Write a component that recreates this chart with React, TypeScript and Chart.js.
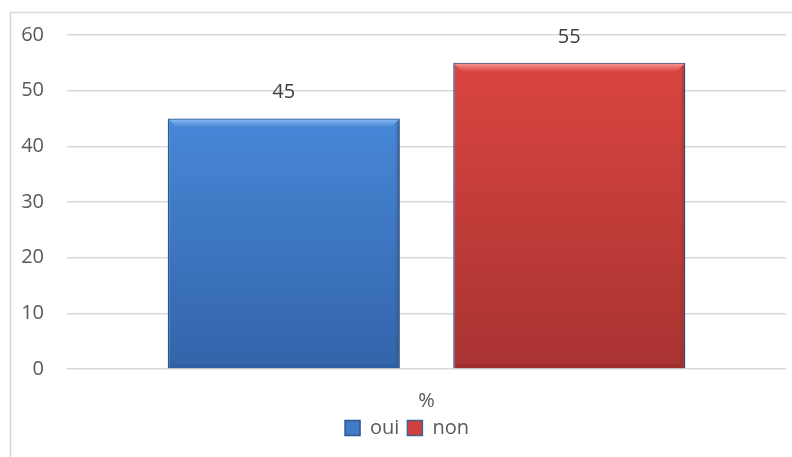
import React, { useEffect, useRef } from "react";
import { Chart, registerables } from "chart.js";

Chart.register(...registerables);

const categories = ["%"];
const seriesNames = ["oui", "non"];
const ouiValues = [45];
const nonValues = [55];
const yTicks = { min: 0, max: 60, step: 10 };

const FONT = "'Open Sans', 'Noto Sans', sans-serif";

const palette = [
  { top: "#4787d7", bottom: "#3364aa", light: "#86b8f2", dark: "#244a80", border: "#2e5894", legend: "#3f7ac6" },
  { top: "#da4541", bottom: "#a83331", light: "#f79490", dark: "#7e2422", border: "#3f6194", legend: "#cf403c" },
];

function hexToRgba(hex: string, a: number) {
  const n = parseInt(hex.slice(1), 16);
  return `rgba(${(n >> 16) & 255},${(n >> 8) & 255},${n & 255},${a})`;
}

const framePlugin = {
  id: "frame",
  beforeDraw(chart: any) {
    const c = chart.ctx;
    c.save();
    c.fillStyle = "#ffffff";
    c.fillRect(0, 0, chart.width, chart.height);
    c.strokeStyle = "#d9d9d9";
    c.lineWidth = 1.5;
    c.strokeRect(10.5, 12.5, 900, 600);
    c.restore();
  },
};

const shadowPlugin = {
  id: "barShadow",
  beforeDatasetsDraw(chart: any) {
    const c = chart.ctx;
    c.save();
    c.shadowColor = "rgba(0,0,0,0.3)";
    c.shadowBlur = 4;
    c.shadowOffsetX = 2;
    c.shadowOffsetY = 2;
  },
  afterDatasetsDraw(chart: any) {
    chart.ctx.restore();
  },
};

const bevelPlugin = {
  id: "bevel",
  afterDatasetsDraw(chart: any) {
    const c = chart.ctx;
    chart.data.datasets.forEach((ds: any, i: number) => {
      const meta = chart.getDatasetMeta(i);
      const p = palette[i];
      meta.data.forEach((el: any) => {
        const { x, y, base, width } = el.getProps(["x", "y", "base", "width"], true);
        const x0 = x - width / 2 + 1;
        const x1 = x + width / 2 - 1;
        const y0 = y + 1;
        const y1 = base - 1;
        const b = 8;
        const s = 4;
        c.save();
        // top highlight
        let g = c.createLinearGradient(0, y0, 0, y0 + b);
        g.addColorStop(0, hexToRgba(p.light, 0.95));
        g.addColorStop(1, hexToRgba(p.light, 0.0));
        c.fillStyle = g;
        c.beginPath();
        c.moveTo(x0, y0);
        c.lineTo(x1, y0);
        c.lineTo(x1 - b, y0 + b);
        c.lineTo(x0 + b, y0 + b);
        c.closePath();
        c.fill();
        // right shade
        g = c.createLinearGradient(x1 - s, 0, x1, 0);
        g.addColorStop(0, hexToRgba(p.dark, 0.0));
        g.addColorStop(1, hexToRgba(p.dark, 0.45));
        c.fillStyle = g;
        c.beginPath();
        c.moveTo(x1, y0);
        c.lineTo(x1, y1);
        c.lineTo(x1 - s, y1 - s);
        c.lineTo(x1 - s, y0 + s);
        c.closePath();
        c.fill();
        // bottom shade
        g = c.createLinearGradient(0, y1 - s, 0, y1);
        g.addColorStop(0, hexToRgba(p.dark, 0.0));
        g.addColorStop(1, hexToRgba(p.dark, 0.45));
        c.fillStyle = g;
        c.beginPath();
        c.moveTo(x0, y1);
        c.lineTo(x1, y1);
        c.lineTo(x1 - s, y1 - s);
        c.lineTo(x0 + s, y1 - s);
        c.closePath();
        c.fill();
        c.restore();
      });
    });
  },
};

const valueLabelPlugin = {
  id: "valueLabels",
  afterDatasetsDraw(chart: any) {
    const c = chart.ctx;
    c.save();
    c.font = `20px ${FONT}`;
    c.fillStyle = "#404040";
    c.textAlign = "center";
    c.textBaseline = "middle";
    chart.data.datasets.forEach((ds: any, i: number) => {
      const meta = chart.getDatasetMeta(i);
      meta.data.forEach((el: any, j: number) => {
        c.fillText(String(ds.data[j]), el.x, el.y - 26);
      });
    });
    c.restore();
  },
};

const legendShiftPlugin = {
  id: "legendShift",
  afterLayout(chart: any) {
    if (chart.legend) {
      chart.legend.left += 14;
      chart.legend.right += 14;
    }
  },
};

function makeFill(i: number) {
  return (ctx: any) => {
    const chart = ctx.chart;
    const ys = chart.scales && chart.scales.y;
    if (!ys || ctx.type !== "data" || ys.bottom === undefined) return palette[i].top;
    const top = ys.getPixelForValue(ctx.raw);
    const bot = ys.getPixelForValue(0);
    if (!isFinite(top) || !isFinite(bot)) return palette[i].top;
    const g = chart.ctx.createLinearGradient(0, top, 0, bot);
    g.addColorStop(0, palette[i].top);
    g.addColorStop(1, palette[i].bottom);
    return g;
  };
}

export default function App() {
  const ref = useRef<HTMLCanvasElement | null>(null);
  useEffect(() => {
    if (!ref.current) return;
    const chart = new Chart(ref.current, {
      type: "bar",
      data: {
        labels: categories,
        datasets: [
          {
            label: seriesNames[0],
            data: ouiValues,
            backgroundColor: makeFill(0),
            borderColor: palette[0].border,
            borderWidth: 1.5,
            categoryPercentage: 0.794,
            barPercentage: 0.813,
          },
          {
            label: seriesNames[1],
            data: nonValues,
            backgroundColor: makeFill(1),
            borderColor: palette[1].border,
            borderWidth: 1.5,
            categoryPercentage: 0.794,
            barPercentage: 0.813,
          },
        ],
      },
      options: {
        animation: false,
        responsive: false,
        maintainAspectRatio: false,
        devicePixelRatio: 1,
        layout: { padding: { left: 0, right: 6, top: 35, bottom: 9 } },
        plugins: {
          tooltip: { enabled: false },
          legend: {
            display: true,
            position: "bottom",
            labels: {
              font: { family: FONT, size: 20 },
              color: "#595959",
              boxWidth: 15,
              boxHeight: 15,
              padding: 8,
              generateLabels: (ch: any) =>
                ch.data.datasets.map((ds: any, i: number) => ({
                  text: ds.label,
                  fillStyle: palette[i].legend,
                  strokeStyle: palette[i].border,
                  lineWidth: 1.5,
                  datasetIndex: i,
                  hidden: false,
                  fontColor: "#595959",
                })),
            },
          },
        },
        scales: {
          x: {
            afterFit: (s: any) => {
              s.height = 41;
            },
            grid: { display: false, drawTicks: false },
            border: { display: false },
            ticks: {
              font: { family: FONT, size: 20 },
              color: "#595959",
              padding: 20,
            },
          },
          y: {
            min: yTicks.min,
            max: yTicks.max,
            afterFit: (s: any) => {
              s.width = 67;
            },
            grid: { color: "#d9d9d9", lineWidth: 1.5, drawTicks: false },
            border: { display: false },
            ticks: {
              stepSize: yTicks.step,
              font: { family: FONT, size: 20 },
              color: "#595959",
              padding: 23,
            },
          },
        },
      },
      plugins: [framePlugin, shadowPlugin, bevelPlugin, valueLabelPlugin, legendShiftPlugin],
    });
    return () => chart.destroy();
  }, []);
  return (
    <div style={{ position: "absolute", left: 0, top: 0, width: 792, height: 457 }}>
      <canvas ref={ref} width={792} height={457} style={{ width: 792, height: 457, display: "block" }} />
    </div>
  );
}
